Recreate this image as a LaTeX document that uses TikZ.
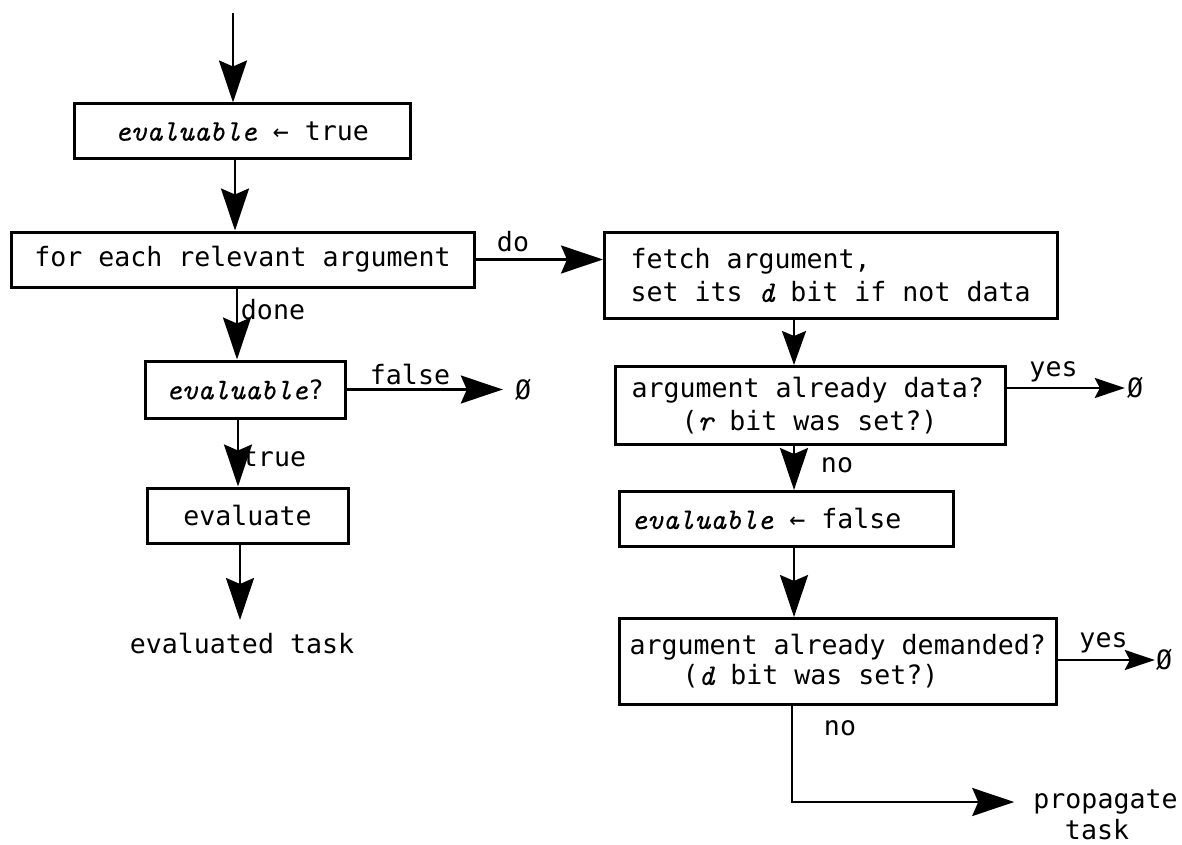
\documentclass[tikz,border=0pt]{standalone}
\usepackage{fontspec}
\setmainfont{DejaVu Sans Mono}
\newfontfamily\itvar{lmmono10-italic}[Extension=.otf, FakeBold=0.25]
\usetikzlibrary{arrows.meta}
% italic typewriter for variable names
\newcommand\slvar[1]{{\fontsize{30}{33}\selectfont\itvar #1}}
% keep the full monospace word space inside left-aligned boxes
\newcommand\monosp{\spaceskip=0pt\xspaceskip=0pt\relax}
\begin{document}
\begin{tikzpicture}[x=1pt,y=-1pt,
  font=\fontsize{26.6}{33}\selectfont,
  box/.style={draw, line width=3pt, inner sep=0pt},
  cbox/.style={box, align=center},
  lbox/.style={box, align=left},
  arr/.style={line width=2.4pt, -{Stealth[length=42pt,width=28pt,inset=6pt]}},
  marr/.style={line width=2.4pt, -{Stealth[length=34pt,width=24pt,inset=5pt]}},
  sarr/.style={line width=2.4pt, -{Stealth[length=30pt,width=20pt,inset=5pt]}},
  lbl/.style={inner sep=0pt},
]
\useasboundingbox (0,0) rectangle (1182,845);

% left column
\node[cbox, minimum width=336pt, minimum height=55pt] (b1) at (242,131.5) {\slvar{evaluable} ← true};
\node[cbox, minimum width=463pt, minimum height=55pt] (b2) at (242.5,259.5) {for each relevant argument};
\node[cbox, minimum width=200pt, minimum height=57pt] (b3) at (245,389.5) {\slvar{evaluable}?};
\node[cbox, minimum width=201pt, minimum height=55pt] (b5) at (247.5,515.5) {evaluate};
\node[inner xsep=0pt, inner ysep=13pt, anchor=north] (res) at (242,620) {evaluated task};
\node[inner xsep=12pt, inner ysep=0pt] (nil1) at (523,389.5) {Ø};

% right column
\node[lbox, anchor=north west, inner xsep=26pt, text width=401pt, minimum height=86pt] (b4) at (603,231)
  {\monosp fetch argument,\\\monosp set its \slvar{d} bit if not data};
\node[lbox, anchor=north west, inner xsep=16pt, text width=358pt, minimum height=78pt] (b6) at (614,365)
  {\monosp argument already data?\\\hspace*{50pt}\monosp(\slvar{r} bit was set?)};
\node[lbox, anchor=north west, inner xsep=12pt, text width=310pt, minimum height=55pt] (b7) at (618,490)
  {\monosp\slvar{evaluable} ← false};
\node[lbox, anchor=north west, inner xsep=10pt, text width=417pt, minimum height=86pt,
      font=\fontsize{26.6}{30}\selectfont] (b8) at (618,617)
  {\monosp argument already demanded?\\\hspace*{53pt}\monosp(\slvar{d} bit was set?)};
\node[inner xsep=2pt, inner ysep=0pt] (nil2) at (1135,388) {Ø};
\node[inner xsep=1pt, inner ysep=0pt] (nil3) at (1164,660) {Ø};
\node[inner xsep=19pt, inner ysep=0pt] (prop) at (1105.5,802) {propagate};
\node[lbl] (task) at (1097,830) {task};

% column positions of the vertical connectors
\coordinate (start) at (233,13);
\coordinate (xb) at (235,0);
\coordinate (xc) at (237,0);
\coordinate (xd) at (238,0);
\coordinate (xe) at (240,0);
\coordinate (xr) at (794,0);
\coordinate (xs) at (792,0);

% connectors
\draw[arr] (start) -- (start |- b1.north);
\draw[arr] (b1.south -| xb) -- (b2.north -| xb);
\draw[arr] (b2.south -| xc) -- (b3.north -| xc);
\draw[arr] (b3.south -| xd) -- (b5.north -| xd);
\draw[arr] (b5.south -| xe) -- (res.north -| xe);
\draw[arr] (b2.east) -- (b2.east -| b4.west);
\draw[arr] (b3.east) -- (b3.east -| nil1.west);
\draw[marr] (b4.south -| xr) -- (b6.north -| xr);
\draw[sarr] (nil2.west -| b6.east) -- (nil2.west);
\draw[arr] (b6.south -| xr) -- (b7.north -| xr);
\draw[arr] (b7.south -| xr) -- (b8.north -| xr);
\draw[sarr] (nil3.west -| b8.east) -- (nil3.west);
\draw[arr] (b8.south -| xs) |- (prop.west);

% branch labels
\node[lbl] (l-do) at (513,242) {do};
\node[lbl] (l-done) at (273,310) {done};
\node[lbl] (l-false) at (410,375) {false};
\node[lbl] (l-true) at (274,457) {true};
\node[lbl] (l-yes1) at (1053.5,372) {yes};
\node[lbl] (l-no1) at (837,465) {no};
\node[lbl] (l-yes2) at (1103.5,643) {yes};
\node[lbl] (l-no2) at (840,728) {no};
\end{tikzpicture}
\end{document}
